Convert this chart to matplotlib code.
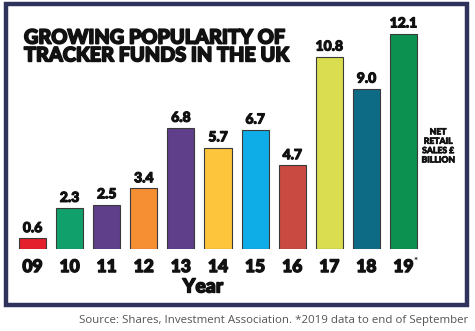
import matplotlib
matplotlib.use("Agg")
import matplotlib.pyplot as plt
from matplotlib.patches import Rectangle
import matplotlib.patheffects as pe

years = ["09", "10", "11", "12", "13", "14", "15", "16", "17", "18", "19"]
sales = [0.6, 2.3, 2.5, 3.4, 6.8, 5.7, 6.7, 4.7, 10.8, 9.0, 12.1]
colors = ["#e3202c", "#10a06b", "#5f3f8a", "#f68f34", "#5f3f8a", "#fdc53c",
          "#0fade8", "#c84a40", "#d9dd4f", "#0e6b86", "#0c9150"]

W, H = 475, 331
fig = plt.figure(figsize=(W / 100, H / 100), dpi=100)
fig.patch.set_facecolor("white")

HEAVY = ["Lato", "DejaVu Sans"]
INK = "#111111"


def thick(w):
    return [pe.withStroke(linewidth=w, foreground=INK)]


# outer frame
fig.patches.append(Rectangle((6 / W, (H - 305) / H), (467 - 6) / W, (305 - 4) / H,
                             transform=fig.transFigure, fill=False,
                             edgecolor="#2f335c", linewidth=3.2))

# bars area: baseline at y=249px, 17.8 px per unit, 37.1 px per bar slot
slot = 37.1
x0 = 32.5 - slot / 2
ppu = 17.8
ymax = 13.0
ax = fig.add_axes([x0 / W, (H - 249) / H, 11 * slot / W, ymax * ppu / H])
ax.set_xlim(-0.5, 10.5)
ax.set_ylim(0, ymax)
ax.axis("off")

xs = list(range(len(years)))
ax.bar(xs, sales, width=0.73, color=colors, edgecolor="#3a3a3a", linewidth=0.8)

for x, v in zip(xs, sales):
    ax.annotate(f"{v:.1f}", (x, v), xytext=(0, 3), textcoords="offset points",
                ha="center", va="bottom", fontsize=10, fontweight="black",
                family=HEAVY, color=INK, path_effects=thick(0.8))

for x, y in zip(xs, years):
    ax.annotate(y, (x, 0), xytext=(0, -13), textcoords="offset points",
                ha="center", va="center", fontsize=12.5, fontweight="black",
                family=HEAVY, color=INK, annotation_clip=False,
                path_effects=thick(1.0))
ax.annotate("*", (10, 0), xytext=(7.5, -9), textcoords="offset points",
            ha="left", va="center", fontsize=7, fontweight="bold",
            family=HEAVY, color=INK, annotation_clip=False)

fig.text(203 / W, 1 - 287 / H, "Year", ha="center", va="center",
         fontsize=14, fontweight="black", family=HEAVY, color=INK,
         path_effects=thick(1.0))

fig.text(24 / W, 1 - 46 / H, "GROWING POPULARITY OF\nTRACKER FUNDS IN THE UK",
         ha="left", va="center", fontsize=14.3, fontweight="black",
         family=HEAVY, color=INK, linespacing=0.92, path_effects=thick(1.2))

fig.text(438 / W, 1 - 146 / H, "NET\nRETAIL\nSALES £\nBILLION",
         ha="center", va="center", fontsize=6.2, fontweight="black",
         family=HEAVY, color=INK, linespacing=1.05, path_effects=thick(0.5))

fig.text(468 / W, 1 - 320 / H,
         "Source: Shares, Investment Association. *2019 data to end of September",
         ha="right", va="center", fontsize=8.25, family=["Open Sans", "DejaVu Sans"],
         color="#555555")

fig.savefig("out.png", dpi=100, facecolor="white")
